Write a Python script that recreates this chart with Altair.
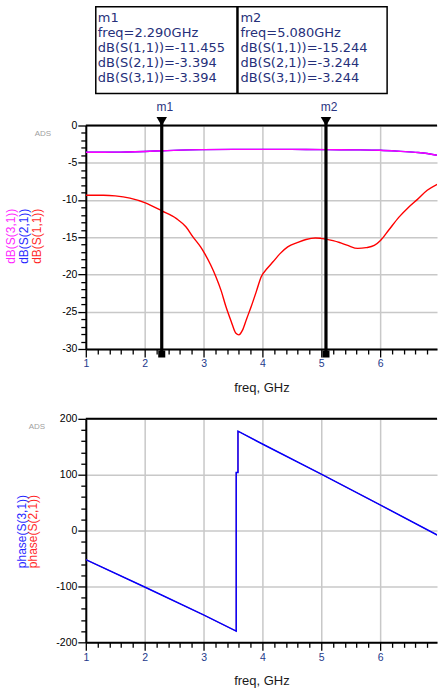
import altair as alt
import pandas as pd

# ---------------- data ----------------
# dB(S(1,1)) (red)
freq_s11 = [1.0, 1.3, 1.5, 1.75, 2.0, 2.29, 2.54, 2.7, 2.82, 2.95, 3.02, 3.12, 3.21, 3.3,
            3.38, 3.47, 3.55, 3.6, 3.66, 3.73, 3.81, 3.9, 3.98, 4.08, 4.18, 4.3, 4.43, 4.6,
            4.74, 4.9, 5.08, 5.2, 5.31, 5.45, 5.62, 5.76, 5.9, 6.01, 6.15, 6.32, 6.48, 6.63,
            6.8, 6.97]
s11_db = [-9.37, -9.37, -9.45, -9.75, -10.35, -11.455, -12.5, -13.6, -14.95, -16.3, -17.2,
          -18.7, -20.3, -22.2, -24.3, -26.3, -27.9, -28.1, -27.5, -26.0, -24.3, -22.2, -20.3,
          -19.2, -18.3, -17.2, -16.3, -15.7, -15.3, -15.1, -15.244, -15.45, -15.7, -16.1,
          -16.5, -16.4, -16.1, -15.4, -14.0, -12.3, -11.0, -9.95, -8.7, -7.9]
# dB(S(2,1)) (blue) and dB(S(3,1)) (magenta) coincide
freq_s21 = [1.0, 1.5, 2.0, 2.29, 2.6, 3.0, 3.5, 4.0, 4.5, 5.08, 5.6, 6.0, 6.3, 6.6, 6.8, 6.97]
s21_db = [-3.6, -3.58, -3.48, -3.394, -3.3, -3.24, -3.21, -3.2, -3.21, -3.244, -3.27, -3.33,
          -3.45, -3.6, -3.75, -4.0]
s31_db = [-3.6, -3.58, -3.48, -3.394, -3.3, -3.24, -3.21, -3.2, -3.21, -3.244, -3.27, -3.33,
          -3.45, -3.6, -3.75, -4.0]
# phase(S(3,1)) (blue) and phase(S(2,1)) (red) coincide
freq_phase = [1.0, 2.0, 3.0, 3.555, 3.555, 3.585, 3.585, 4.0, 5.0, 6.0, 6.97]
phase_s31 = [-52, -101, -151, -180, 104, 104, 178, 155, 101, 46, -8]
phase_s21 = [-52, -101, -151, -180, 104, 104, 178, 155, 101, 46, -8]

# markers
marker_names = ["m1", "m2"]
marker_freq = [2.29, 5.08]
marker_s11 = [-11.455, -15.244]
marker_s21 = [-3.394, -3.244]
marker_s31 = [-3.394, -3.244]

# axis tick values
x_tick_values = [round(1 + 0.2 * i, 1) for i in range(30)]
y_top_ticks = list(range(-30, 1))
y_bot_ticks = list(range(-200, 201, 20))

top_titles = ["dB(S(3,1))", "dB(S(2,1))", "dB(S(1,1))"]
top_title_colors = ["#ff00ff", "#0000ff", "#ff0000"]
bot_titles = ["phase(S(3,1))", "phase(S(2,1))"]
bot_title_colors = ["#0000ff", "#ff0000"]

# ---------------- layout constants ----------------
W = 352
H = 224
XMAX = 1 + W / 59.0
FONT = "Liberation Sans"
GRID = "#c8c8c8"

MAJOR_X = "abs(datum.value - round(datum.value)) < 0.001"


def x_axis():
    return alt.Axis(
        values=x_tick_values, title="freq, GHz",
        labelExpr=f"{MAJOR_X} ? '' + datum.value : ''",
        labelOverlap=False, labelFlush=False, labelFont=FONT, labelFontSize=10.5,
        labelColor="#233a8c", labelPadding=2,
        tickColor="black", tickWidth=1.3,
        tickSize={"condition": {"test": MAJOR_X, "value": 8}, "value": 5},
        grid=True, gridColor=GRID, gridWidth=1.5,
        gridOpacity={"condition": {"test": MAJOR_X, "value": 1}, "value": 0},
        domainColor="black", domainWidth=2,
        titleFont=FONT, titleFontSize=13, titleFontWeight="normal",
        titleColor="#1a1a1a", titlePadding=12)


def y_axis(ticks, step):
    major = f"abs(datum.value % {step}) < 0.001"
    return alt.Axis(
        values=ticks, title=None,
        labelExpr=f"{major} ? '' + datum.value : ''",
        labelOverlap=False, labelFlush=False, labelFont=FONT, labelFontSize=10.5,
        labelColor="black", labelPadding=1,
        tickColor="black", tickWidth=1.3,
        tickSize={"condition": {"test": major, "value": 8}, "value": 5},
        grid=True, gridColor=GRID, gridWidth=1.5,
        gridOpacity={"condition": {"test": major, "value": 1}, "value": 0},
        domainColor="black", domainWidth=2)


xscale = alt.Scale(domain=[1, XMAX], nice=False, zero=False)
XAX = x_axis()


def xenc():
    return alt.X("freq:Q", scale=xscale, axis=XAX)


# ---------------- top panel ----------------
rows = []
for f, v in zip(freq_s11, s11_db):
    rows.append({"freq": f, "val": v, "s": "dB(S(1,1))"})
for f, v in zip(freq_s21, s21_db):
    rows.append({"freq": f, "val": v, "s": "dB(S(2,1))"})
for f, v in zip(freq_s21, s31_db):
    rows.append({"freq": f, "val": v, "s": "dB(S(3,1))"})
df_top = pd.DataFrame(rows)

top_lines = alt.Chart(df_top).mark_line(strokeWidth=1.4, interpolate="monotone", clip=True).encode(
    x=xenc(),
    y=alt.Y("val:Q", scale=alt.Scale(domain=[-30, 0], nice=False, zero=False),
            axis=y_axis(y_top_ticks, 5)),
    color=alt.Color("s:N", scale=alt.Scale(domain=["dB(S(1,1))", "dB(S(2,1))", "dB(S(3,1))"],
                                           range=["#ff0000", "#0000ff", "#ff00ff"]), legend=None),
    detail="s:N",
)

df_mk = pd.DataFrame({"name": marker_names, "freq": marker_freq})
mk_base = alt.Chart(df_mk)
mk_rule = mk_base.mark_rule(color="black", strokeWidth=3.2).encode(
    x=xenc(), y=alt.value(-3), y2=alt.value(H + 8))
mk_tri = mk_base.mark_point(shape="triangle-down", filled=True, size=110, color="black",
                            opacity=1).encode(x=xenc(), y=alt.value(-4))
mk_foot = mk_base.mark_point(shape="square", filled=True, size=50, color="black",
                             opacity=1).encode(x=xenc(), y=alt.value(H + 5))
mk_text = mk_base.mark_text(font=FONT, fontSize=12, color="#2a3480", dx=3,
                            baseline="middle").encode(
    x=xenc(), y=alt.value(-19), text="name:N")

# marker readout box
box_text = []
for n, f, a, b, c in zip(marker_names, marker_freq, marker_s11, marker_s21, marker_s31):
    box_text.append("\n".join([
        n, f"freq={f:.3f}GHz", f"dB(S(1,1))={a:.3f}", f"dB(S(2,1))={b:.3f}", f"dB(S(3,1))={c:.3f}"]))

box = alt.Chart(pd.DataFrame({"a": [0]})).mark_rect(
    fillOpacity=0, stroke="black", strokeWidth=1.5).encode(
    x=alt.value(10), x2=alt.value(302), y=alt.value(-119), y2=alt.value(-32))
box_div = alt.Chart(pd.DataFrame({"a": [0]})).mark_rule(color="black", strokeWidth=2.5).encode(
    x=alt.value(152), y=alt.value(-119), y2=alt.value(-32))
box_layers = []
for i, (t, xp) in enumerate(zip(box_text, [12, 155])):
    box_layers.append(
        alt.Chart(pd.DataFrame({"t": [t]})).mark_text(
            font="DejaVu Sans", fontSize=13, color="#26307a", align="left", baseline="top",
            lineBreak="\n", lineHeight=15).encode(
            x=alt.value(xp), y=alt.value(-114), text="t:N"))

top_border = alt.Chart(pd.DataFrame({"a": [0]})).mark_rule(color="black", strokeWidth=2).encode(
    x=alt.value(0), x2=alt.value(W), y=alt.value(0))

ads_top = alt.Chart(pd.DataFrame({"t": ["ADS"]})).mark_text(
    font=FONT, fontSize=8, color="#a0a0a0").encode(x=alt.value(-43), y=alt.value(9), text="t:N")

top_title_layers = []
for t, c, xp in zip(top_titles, top_title_colors, [-75, -62, -49]):
    top_title_layers.append(
        alt.Chart(pd.DataFrame({"t": [t]})).mark_text(
            font=FONT, fontSize=12, color=c, angle=270, align="center", baseline="middle",
            opacity=0.85).encode(x=alt.value(xp), y=alt.value(H / 2 - 1), text="t:N"))

top = alt.layer(top_lines, mk_rule, mk_tri, mk_foot, mk_text, box, box_div, *box_layers,
                top_border, ads_top, *top_title_layers).properties(width=W, height=H)

# ---------------- bottom panel ----------------
df_p21 = pd.DataFrame({"freq": freq_phase, "val": phase_s21, "i": list(range(len(freq_phase)))})
df_p31 = pd.DataFrame({"freq": freq_phase, "val": phase_s31, "i": list(range(len(freq_phase)))})
yscale_bot = alt.Scale(domain=[-200, 200], nice=False, zero=False)

bot_red = alt.Chart(df_p21).mark_line(strokeWidth=0.8, color="#ff0000", clip=True).encode(
    x=xenc(),
    y=alt.Y("val:Q", scale=yscale_bot, axis=y_axis(y_bot_ticks, 100)),
    order="i:Q",
)
bot_blue = alt.Chart(df_p31).mark_line(strokeWidth=1.5, color="#0000ff", clip=True).encode(
    x=xenc(),
    y=alt.Y("val:Q", scale=yscale_bot, axis=y_axis(y_bot_ticks, 100)),
    order="i:Q",
)

bot_border = alt.Chart(pd.DataFrame({"a": [0]})).mark_rule(color="black", strokeWidth=2).encode(
    x=alt.value(0), x2=alt.value(W), y=alt.value(0))
ads_bot = alt.Chart(pd.DataFrame({"t": ["ADS"]})).mark_text(
    font=FONT, fontSize=8, color="#a0a0a0").encode(x=alt.value(-49), y=alt.value(8), text="t:N")

bot_title_layers = []
for t, c, xp in zip(bot_titles, bot_title_colors, [-64, -53]):
    bot_title_layers.append(
        alt.Chart(pd.DataFrame({"t": [t]})).mark_text(
            font=FONT, fontSize=12, color=c, angle=270, align="center", baseline="middle",
            opacity=0.85).encode(x=alt.value(xp), y=alt.value(H / 2 + 1), text="t:N"))

bottom = alt.layer(bot_red, bot_blue, bot_border, ads_bot,
                   *bot_title_layers).properties(width=W, height=H)

chart = alt.vconcat(top, bottom, spacing=19).properties(
    padding={"left": 5, "top": 4, "right": 0, "bottom": 2}
).configure(background="white").configure_view(stroke=None)

chart.save("out.html", embed_options={"renderer": "svg", "actions": False})
